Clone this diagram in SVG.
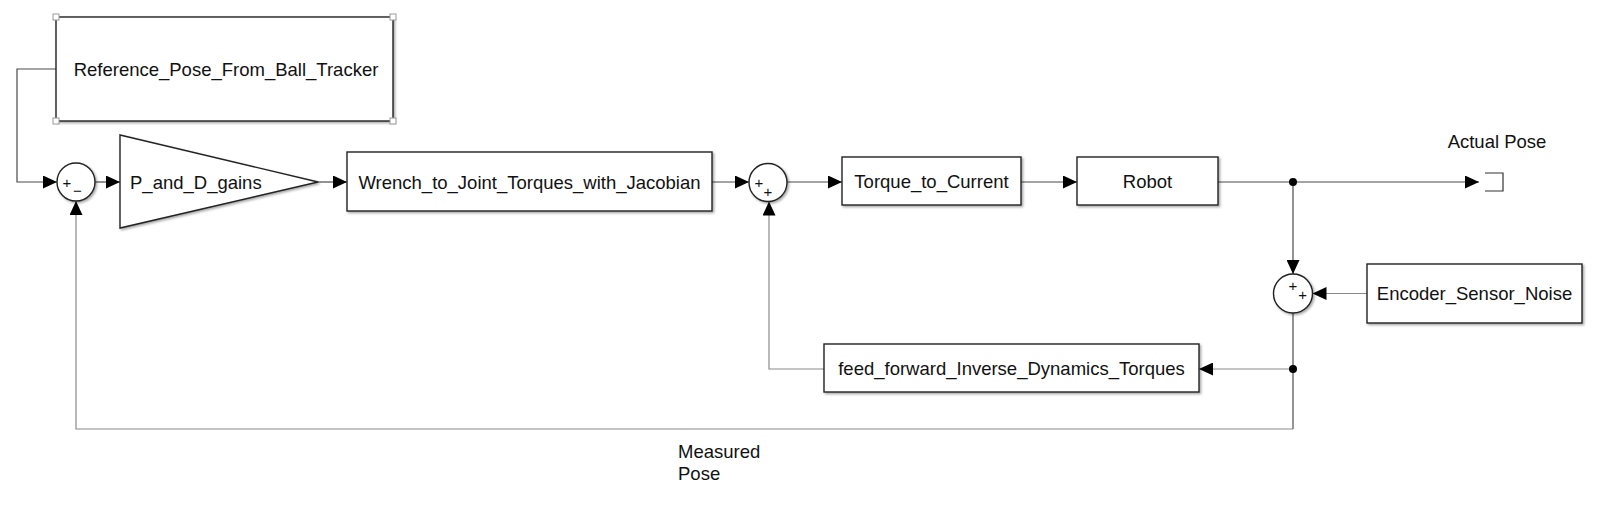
<svg xmlns="http://www.w3.org/2000/svg" width="1600" height="520" viewBox="0 0 1600 520">
<defs>
<style>
.blk{fill:#fff;stroke:#222;stroke-width:1.4}
.lbl{font-family:"Liberation Sans",Arial,sans-serif;font-size:18.5px;fill:#111}
.sgn{font-family:"Liberation Sans",Arial,sans-serif;font-size:15px;fill:#111;text-anchor:middle}
.ln{fill:none;stroke:#4a4a4a;stroke-width:1.2}
.lg{fill:none;stroke:#8a8a8a;stroke-width:1.2}
.hdl{fill:#fff;stroke:#999;stroke-width:1}
</style>
<filter id="sh" x="-10%" y="-10%" width="130%" height="140%">
<feDropShadow dx="1.5" dy="1.5" stdDeviation="1" flood-color="#000" flood-opacity="0.35"/>
</filter>
<marker id="ar" viewBox="0 0 14 13" refX="14" refY="6.5" markerWidth="14" markerHeight="13" markerUnits="userSpaceOnUse" orient="auto">
<path d="M0,0 L14,6.5 L0,13 z" fill="#000"/>
</marker>
</defs>
<rect width="1600" height="520" fill="#fff"/>

<g id="connectors">
<path class="ln" d="M56,69 H17 V182 H57" marker-end="url(#ar)"/>
<path class="ln" d="M95,182 H120" marker-end="url(#ar)"/>
<path class="ln" d="M318,182 H347" marker-end="url(#ar)"/>
<path class="ln" d="M712,182 H749" marker-end="url(#ar)"/>
<path class="ln" d="M787,182 H842" marker-end="url(#ar)"/>
<path class="ln" d="M1021,182 H1077" marker-end="url(#ar)"/>
<path class="ln" d="M1218,182 H1479" marker-end="url(#ar)"/>
<path class="ln" d="M1293,182 V274" marker-end="url(#ar)"/>
<path class="lg" d="M1367,293.5 H1312.5" marker-end="url(#ar)"/>
<path class="ln" d="M1293,313 V429"/>
<path class="lg" d="M1293,429 H76 V201" marker-end="url(#ar)"/>
<path class="lg" d="M1293,369 H1199" marker-end="url(#ar)"/>
<path class="lg" d="M824,369 H769 V201.5" marker-end="url(#ar)"/>
<circle cx="1293" cy="182" r="4" fill="#000"/>
<circle cx="1293" cy="369" r="4" fill="#000"/>
</g>

<g id="reference">
<rect class="blk" x="56" y="17" width="337" height="104" filter="url(#sh)"/>
<rect class="hdl" x="53" y="14" width="6" height="6"/>
<rect class="hdl" x="390" y="14" width="6" height="6"/>
<rect class="hdl" x="53" y="118" width="6" height="6"/>
<rect class="hdl" x="390" y="118" width="6" height="6"/>
<text class="lbl" x="226" y="76" text-anchor="middle">Reference_Pose_From_Ball_Tracker</text>
</g>

<g id="sum1">
<circle class="blk" cx="76" cy="182" r="19" filter="url(#sh)"/>
<text class="sgn" x="67" y="188">+</text>
<text class="sgn" x="77.5" y="196">−</text>
</g>

<g id="gain">
<polygon class="blk" points="120,135 318,182 120,228" filter="url(#sh)"/>
<text class="lbl" x="130" y="188.5">P_and_D_gains</text>
</g>

<g id="wrench">
<rect class="blk" x="347" y="152" width="365" height="59" filter="url(#sh)"/>
<text class="lbl" x="529.5" y="188.5" text-anchor="middle">Wrench_to_Joint_Torques_with_Jacobian</text>
</g>

<g id="sum2">
<circle class="blk" cx="768" cy="182.5" r="19" filter="url(#sh)"/>
<text class="sgn" x="759" y="188">+</text>
<text class="sgn" x="768" y="197">+</text>
</g>

<g id="torque">
<rect class="blk" x="842" y="157" width="179" height="48" filter="url(#sh)"/>
<text class="lbl" x="931.5" y="188" text-anchor="middle">Torque_to_Current</text>
</g>

<g id="robot">
<rect class="blk" x="1077" y="157" width="141" height="48" filter="url(#sh)"/>
<text class="lbl" x="1147.5" y="188" text-anchor="middle">Robot</text>
</g>

<g id="actual-pose">
<path d="M1485,173 H1503 V191 H1485" fill="none" stroke="#333" stroke-width="1.2"/>
<text class="lbl" x="1497" y="148" text-anchor="middle">Actual Pose</text>
</g>

<g id="sum3">
<circle class="blk" cx="1293" cy="293.5" r="19.5" filter="url(#sh)"/>
<text class="sgn" x="1293" y="290.5">+</text>
<text class="sgn" x="1302.7" y="299.5">+</text>
</g>

<g id="encoder">
<rect class="blk" x="1367" y="264" width="215" height="59" filter="url(#sh)"/>
<text class="lbl" x="1474.5" y="300" text-anchor="middle">Encoder_Sensor_Noise</text>
</g>

<g id="feedforward">
<rect class="blk" x="824" y="344" width="375" height="48" filter="url(#sh)"/>
<text class="lbl" x="1011.5" y="375" text-anchor="middle">feed_forward_Inverse_Dynamics_Torques</text>
</g>

<g id="measured-pose-label">
<text class="lbl" x="678" y="458">Measured</text>
<text class="lbl" x="678" y="480">Pose</text>
</g>
</svg>
